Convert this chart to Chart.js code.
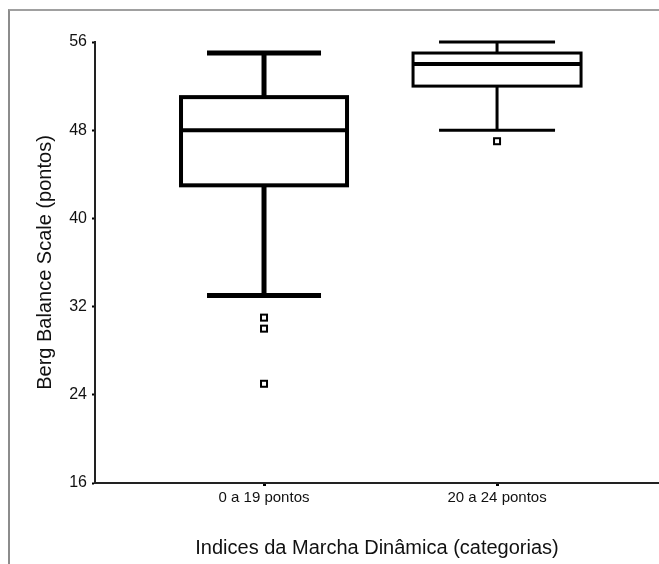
<!DOCTYPE html>
<html>
<head>
<meta charset="utf-8">
<script src="https://cdn.jsdelivr.net/npm/chart.js@4/dist/chart.umd.min.js"></script>
<style>
  html, body { margin:0; padding:0; background:#fff; }
  #wrap { position:relative; width:659px; height:564px; overflow:hidden; }
  #frame { position:absolute; left:8px; top:9px; width:700px; height:600px;
           border-left:2px solid #8c8c8c; border-top:2px solid #a0a0a0; }
  #c { position:absolute; left:0; top:0; }
</style>
</head>
<body>
<div id="wrap">
  <div id="frame"></div>
  <canvas id="c" width="659" height="564"></canvas>
</div>
<script>
/* ── data ────────────────────────────────────────── */
const groups     = ['0 a 19 pontos', '20 a 24 pontos'];
const whiskerLow = [33, 48];
const q1         = [43, 52];
const median     = [48, 54];
const q3         = [51, 55];
const whiskerHigh= [55, 56];
const outliers   = [[31, 30, 25], [47]];
const yTicks     = [16, 24, 32, 40, 48, 56];

/* ── look ────────────────────────────────────────── */
const boxHalf  = [83, 84];
const capHalf  = [57, 58];
const boxLine  = [4, 3];
const whiskLine= [5, 3];
const medLine  = [4, 4];
const FONT = "'Liberation Sans', Arial, sans-serif";

const boxPlugin = {
  id: 'boxes',
  afterDatasetsDraw(chart) {
    const {ctx, scales:{x, y}} = chart;
    ctx.save();
    ctx.strokeStyle = '#000';
    ctx.lineCap = 'butt';
    groups.forEach((g, i) => {
      const cx = x.getPixelForValue(i + 1);
      const bh = boxHalf[i], ch = capHalf[i];
      const yq1 = y.getPixelForValue(q1[i]), yq3 = y.getPixelForValue(q3[i]);
      const ymed = y.getPixelForValue(median[i]);
      const ylo = y.getPixelForValue(whiskerLow[i]), yhi = y.getPixelForValue(whiskerHigh[i]);

      // whiskers
      ctx.lineWidth = whiskLine[i];
      ctx.beginPath();
      ctx.moveTo(cx, yq3); ctx.lineTo(cx, yhi);
      ctx.moveTo(cx, yq1); ctx.lineTo(cx, ylo);
      ctx.moveTo(cx - ch, yhi); ctx.lineTo(cx + ch, yhi);
      ctx.moveTo(cx - ch, ylo); ctx.lineTo(cx + ch, ylo);
      ctx.stroke();

      // box
      ctx.fillStyle = '#fff';
      ctx.fillRect(cx - bh, yq3, bh * 2, yq1 - yq3);
      ctx.lineWidth = boxLine[i];
      ctx.strokeRect(cx - bh, yq3, bh * 2, yq1 - yq3);

      // median
      ctx.lineWidth = medLine[i];
      ctx.beginPath();
      ctx.moveTo(cx - bh, ymed); ctx.lineTo(cx + bh, ymed);
      ctx.stroke();

      // outliers
      ctx.lineWidth = 2;
      outliers[i].forEach(v => {
        const py = y.getPixelForValue(v);
        ctx.fillRect(cx - 3, py - 3, 6, 6);
        ctx.strokeRect(cx - 3, py - 3, 6, 6);
      });
    });
    ctx.restore();
  }
};

new Chart(document.getElementById('c'), {
  type: 'scatter',
  data: { datasets: [] },
  plugins: [boxPlugin],
  options: {
    responsive: false,
    animation: false,
    devicePixelRatio: 1,
    layout: { padding: { left: 29, top: 42, right: 0, bottom: 0 } },
    plugins: { legend: { display: false }, tooltip: { enabled: false } },
    scales: {
      x: {
        type: 'linear',
        min: 0.2747, max: 2.695,
        afterBuildTicks: s => { s.ticks = groups.map((g, i) => ({ value: i + 1 })); },
        afterFit: s => { s.height = 81; },
        grid: { drawOnChartArea: false, drawTicks: true, tickLength: 3, tickWidth: 3, tickColor: '#000' },
        border: { display: true, color: '#222', width: 2 },
        ticks: {
          color: '#111', padding: 3, maxRotation: 0, autoSkip: false,
          font: { family: FONT, size: 15 },
          callback: v => groups[v - 1] ?? ''
        },
        title: {
          display: true, text: 'Indices da Marcha Dinâmica (categorias)',
          color: '#111', font: { family: FONT, size: 20 }, padding: { top: 4, bottom: 4 }
        }
      },
      y: {
        min: 16, max: 56,
        afterBuildTicks: s => { s.ticks = yTicks.map(v => ({ value: v })); },
        afterFit: s => { s.width = 66; },
        grid: { drawOnChartArea: false, drawTicks: true, tickLength: 3, tickWidth: 2, tickColor: '#000' },
        border: { display: true, color: '#222', width: 2 },
        ticks: { color: '#111', padding: 5, font: { family: FONT, size: 16 } },
        title: {
          display: true, text: 'Berg Balance Scale (pontos)',
          color: '#111', font: { family: FONT, size: 20 }, padding: { top: 4, bottom: 4 }
        }
      }
    }
  }
});
</script>
</body>
</html>
